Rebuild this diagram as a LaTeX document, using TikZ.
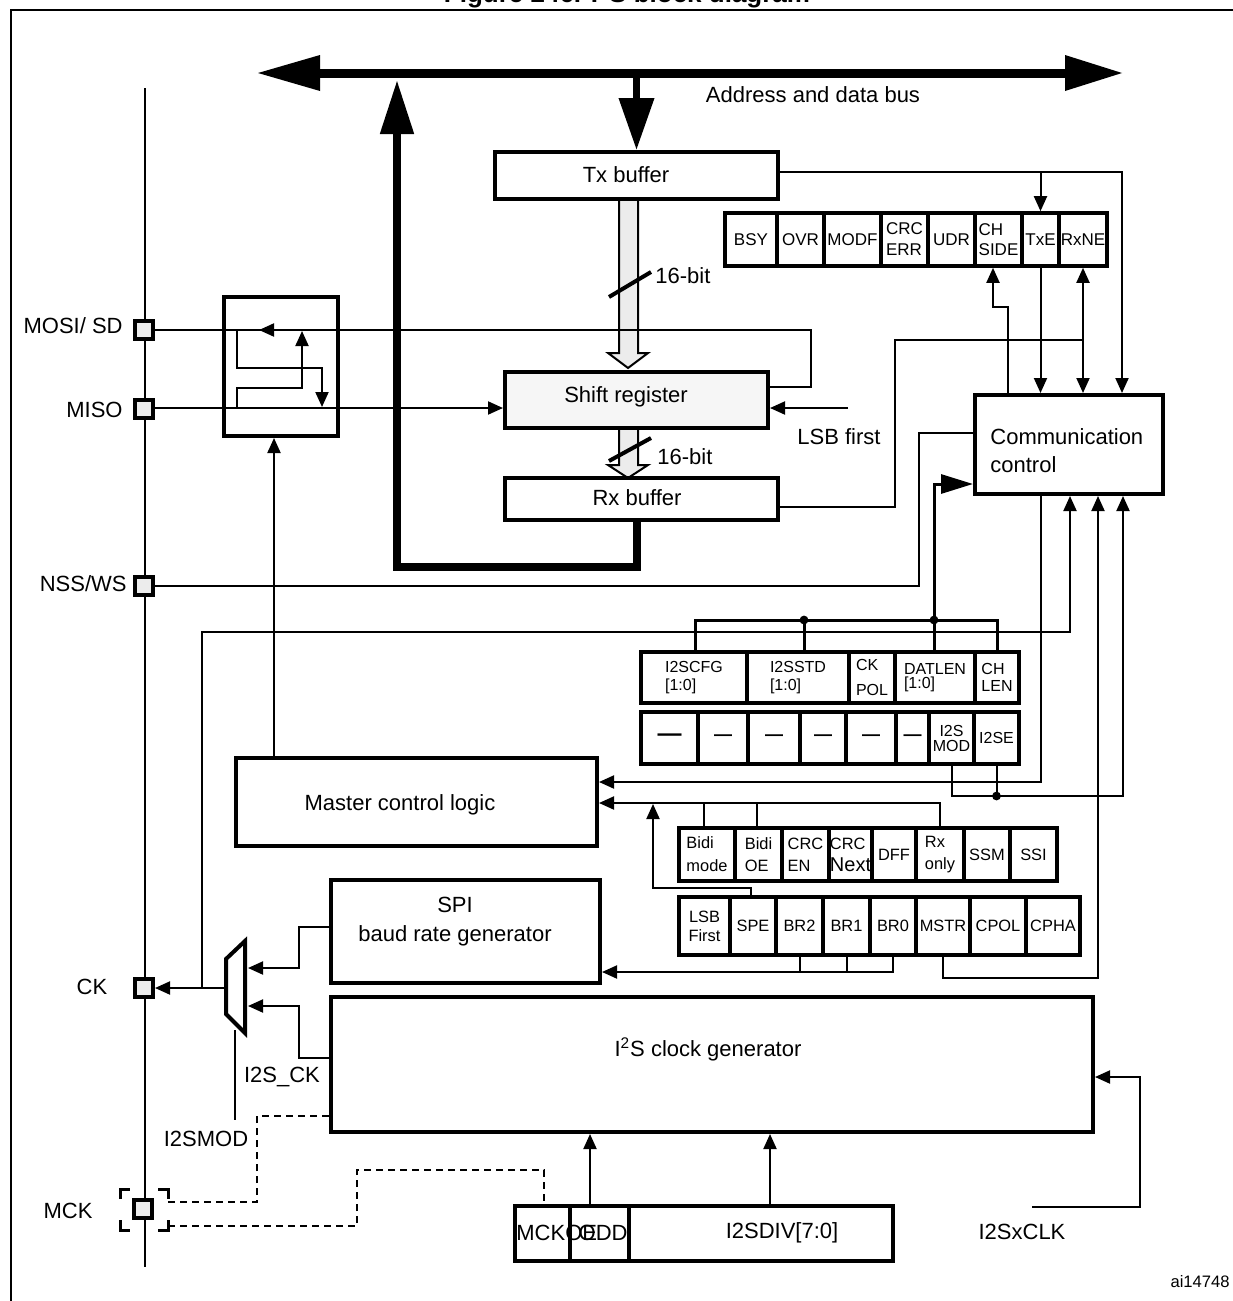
\documentclass[tikz,border=0pt]{standalone}
\usepackage{fontspec}
\setmainfont{Liberation Sans}
\usetikzlibrary{arrows.meta}
\newcommand\rnode[7]{\node[#2, minimum width={(#5-#3)*0.5pt}, minimum height={(#6-#4)*0.5pt}] (#1) at ({(#3+#5)/2},{(#4+#6)/2}) {#7};}
\newcommand\fmain{\fontsize{11}{13}\selectfont}
\begin{document}
\begin{tikzpicture}[x=0.5pt, y=-0.5pt,
 blk/.style={draw, line width=2pt, inner sep=0pt, font=\fmain},
 cell/.style={draw, line width=1.8pt, inner sep=0pt, align=left},
 scell/.style={cell, font=\fontsize{8.5}{10.5}\selectfont},
 icell/.style={cell, font=\fontsize{8}{9}\selectfont},
 pcell/.style={cell, font=\fontsize{8.2}{11.5}\selectfont},
 wire/.style={line width=1pt},
 arr/.style={-{Triangle[length=7.5pt,width=6.5pt]}},
 darr/.style={{Triangle[length=7.5pt,width=6.5pt]}-{Triangle[length=7.5pt,width=6.5pt]}},
 pinbox/.style={draw, line width=2pt, fill=gray!15, minimum size=9pt, inner sep=0pt},
 lbl/.style={font=\fmain, inner sep=0pt},
 cfgbus/.style={line width=1.5pt},
 dsh/.style={line width=1pt, dash pattern=on 3.5pt off 2.5pt},
 brk/.style={line width=1.5pt},
 dot/.style={circle, fill, inner sep=0pt, minimum size=4.4pt}
]
\useasboundingbox (0,0) rectangle (1232,1301);
\fill[white] (0,0) rectangle (1232,1301);
% frame and title
\draw[line width=1pt] (11,1340) -- (11,10) -- (1270,10);
\node[anchor=base, font=\bfseries\fontsize{13}{15}\selectfont, inner sep=0pt] (title) at (627,3) {Figure 246. I\textsuperscript{2}S block diagram};

% address and data bus
\coordinate (busL) at (258,73);
\coordinate (busR) at (1122,73);
\draw[line width=4.5pt] (316,73) -- (1068,73);
\fill (busL) -- (320,55) -- (320,91) -- cycle;
\fill (busR) -- (1065,55) -- (1065,91) -- cycle;
\node[lbl] (buslbl) at (813,95) {Address and data bus};

% hollow 16-bit arrows
\draw[wire, fill=gray!15, line join=miter] (619,199) -- (619,353) -- (608,353) -- (628,368) -- (648,353) -- (638,353) -- (638,199) -- cycle;
\draw[wire, fill=gray!15, line join=miter] (619,428) -- (619,465) -- (608,465) -- (628,478) -- (648,465) -- (638,465) -- (638,428) -- cycle;
\draw[line width=2pt] (609,297) -- (651,272);
\draw[line width=2pt] (609,461) -- (651,438);
\node[lbl, anchor=west] (b16a) at (655,276) {16-bit};
\node[lbl, anchor=west] (b16b) at (657,457) {16-bit};

% main blocks
\rnode{tx}{blk}{495}{152}{778}{199}{}
\node[lbl] (txtext) at (626,175) {Tx buffer};
\rnode{sr}{blk, fill=gray!7}{505}{372}{768}{428}{}
\node[lbl] (srtext) at (626,397) {Shift register};
\rnode{rx}{blk}{505}{478}{778}{520}{}
\node[lbl] (rxtext) at (637,498) {Rx buffer};
\rnode{cc}{blk}{975}{395}{1163}{494}{}
\node[lbl, anchor=west, align=left, font=\fontsize{11}{14}\selectfont] (cctext) at (990,451) {Communication\\control};
\rnode{mb}{blk}{224}{297}{338}{436}{}
\rnode{mcl}{blk}{236}{758}{597}{846}{}
\node[lbl] (mcltext) at (400,805) {Master control logic};
\rnode{spi}{blk}{331}{880}{600}{983}{}
\node[lbl, align=center, font=\fontsize{11}{14.5}\selectfont] (spitext) at (455,922) {SPI\\baud rate generator};
\rnode{i2sg}{blk}{331}{997}{1093}{1132}{}
\node[lbl] (i2sgtext) at (708,1049) {I\textsuperscript{2}S clock generator};

% bus arrows
\draw[line width=3.5pt, -{Triangle[length=26pt,width=17pt]}] (tx.north |- 0,72) -- (tx.north);
\draw[line width=4pt, line join=miter, -{Triangle[length=27pt,width=16pt]}] (rx.south -| 637,0) -- (637,567) -- (397,567) -- (397,80);

% status register
\rnode{bsy}{scell}{725}{213}{777}{266}{BSY}
\rnode{ovr}{scell}{777}{213}{824}{266}{OVR}
\rnode{modf}{scell}{824}{213}{881}{266}{MODF}
\rnode{crcerr}{scell}{881}{213}{928}{266}{CRC\\ERR}
\rnode{udr}{scell}{928}{213}{975}{266}{UDR}
\rnode{chs}{scell, font=\fontsize{8.5}{10}\selectfont}{975}{213}{1022}{266}{CH\\SIDE}
\rnode{txe}{scell}{1022}{213}{1059}{266}{TxE}
\rnode{rxne}{scell}{1059}{213}{1107}{266}{RxNE}

% I2S config register
\rnode{cfg}{icell}{641}{652}{747}{703}{I2SCFG\\{}[1:0]}
\rnode{std}{icell}{747}{652}{849}{703}{I2SSTD\\{}[1:0]}
\rnode{ckpol}{icell, font=\fontsize{8}{12.5}\selectfont}{849}{652}{895}{703}{CK\\POL}
\rnode{datlen}{icell, font=\fontsize{8}{6.8}\selectfont}{895}{652}{975}{703}{DATLEN\\{}[1:0]}
\rnode{chlen}{icell, font=\fontsize{8}{8.5}\selectfont}{975}{652}{1019}{703}{CH\\LEN}
\rnode{da}{icell, font=\bfseries\fontsize{12}{12}\selectfont}{641}{712}{698}{764}{—}
\rnode{db}{icell, font=\bfseries\fontsize{9}{9}\selectfont}{698}{712}{748}{764}{—}
\rnode{dc}{icell, font=\bfseries\fontsize{9}{9}\selectfont}{748}{712}{800}{764}{—}
\rnode{dd}{icell, font=\bfseries\fontsize{9}{9}\selectfont}{800}{712}{846}{764}{—}
\rnode{de}{icell, font=\bfseries\fontsize{9}{9}\selectfont}{846}{712}{896}{764}{—}
\rnode{df}{icell, font=\bfseries\fontsize{9}{9}\selectfont}{896}{712}{929}{764}{—}
\rnode{i2smod}{icell, align=center, font=\fontsize{8}{7.5}\selectfont}{929}{712}{974}{764}{I2S\\MOD}
\rnode{i2se}{icell}{974}{712}{1019}{764}{I2SE}

% SPI CR1 upper row
\rnode{bidim}{pcell}{679}{828}{735}{881}{Bidi\\mode}
\rnode{bidioe}{pcell, font=\fontsize{8.2}{11}\selectfont}{735}{828}{782}{881}{Bidi\\OE}
\rnode{crcen}{pcell, font=\fontsize{8.2}{11}\selectfont}{782}{828}{829}{881}{CRC\\EN}
\rnode{crcnext}{pcell, font=\fontsize{8.2}{11}\selectfont}{829}{828}{872}{881}{CRC\\{\fontsize{10}{11}\selectfont Next}}
\rnode{dff}{pcell}{872}{828}{916}{881}{DFF}
\rnode{rxonly}{pcell, font=\fontsize{8.2}{11}\selectfont}{916}{828}{964}{881}{Rx\\only}
\rnode{ssm}{pcell}{964}{828}{1010}{881}{SSM}
\rnode{ssi}{pcell}{1010}{828}{1057}{881}{SSI}
% SPI CR1 lower row
\rnode{lsbf}{pcell, align=center, font=\fontsize{8.2}{9.5}\selectfont}{679}{897}{730}{955}{LSB\\First}
\rnode{spe}{pcell}{730}{897}{776}{955}{SPE}
\rnode{br2}{pcell}{776}{897}{823}{955}{BR2}
\rnode{br1}{pcell}{823}{897}{870}{955}{BR1}
\rnode{br0}{pcell}{870}{897}{916}{955}{BR0}
\rnode{mstr}{pcell}{916}{897}{970}{955}{MSTR}
\rnode{cpol}{pcell}{970}{897}{1026}{955}{CPOL}
\rnode{cpha}{pcell}{1026}{897}{1080}{955}{CPHA}

% I2S prescaler register
\rnode{mckoe}{cell}{515}{1206}{570}{1261}{}
\rnode{odd}{cell}{570}{1206}{629}{1261}{}
\rnode{i2sdiv}{cell, font=\fmain}{629}{1206}{893}{1261}{}
\node[lbl, anchor=west] (tmckoe) at (516,1233) {MCKOE};
\node[lbl, anchor=east] (todd) at (628,1233) {ODD};
\node[lbl] (ti2sdiv) at (782,1233) {I2SDIV[7:0]};

% pins
\draw[wire] (145,88) -- (145,1267);
\node[pinbox] (mosi) at (144,330) {};
\node[pinbox] (miso) at (144,409) {};
\node[pinbox] (nss) at (144,586) {};
\node[pinbox] (ck) at (144,988) {};
\node[pinbox] (mck) at (143,1209) {};
\node[lbl, anchor=east] (lmosi) at (123,326) {MOSI/ SD};
\node[lbl, anchor=east] (lmiso) at (123,410) {MISO};
\node[lbl, anchor=east] (lnss) at (127,584) {NSS/WS};
\node[lbl] (lck) at (92,987) {CK};
\node[lbl] (lmck) at (68,1211) {MCK};
\draw[brk] (120,1199) -- (120,1189) -- (130,1189);
\draw[brk] (158,1189) -- (168,1189) -- (168,1199);
\draw[brk] (120,1220) -- (120,1230) -- (130,1230);
\draw[brk] (158,1230) -- (168,1230) -- (168,1220);

% Tx buffer to status and control
\draw[wire, arr] (tx.east |- 0,172) -- (1122,172) -- (cc.north -| 1122,0);
\draw[wire, arr] (txe.north |- 0,172) -- (txe.north);
\draw[wire, arr] (txe.south) -- (txe.south |- cc.north);
\draw[wire, darr] (rxne.south) -- (rxne.south |- cc.north);
\draw[wire, arr] (cc.north -| 1008,0) -- (1008,307) -- (993,307) -- (chs.south -| 993,0);
\draw[wire] (rx.east |- 0,507) -- (895,507) -- (895,340) -- (rxne.south |- 0,340);

% shift register links
\draw[wire] (sr.east |- 0,387) -- (811,387) -- (811,330) -- (mosi.east |- 0,330);
\draw[wire, arr] (300,330) -- (259,330);
\coordinate (lsbin) at (848,408);
\draw[wire, arr] (lsbin) -- (sr.east |- lsbin);
\node[lbl] (lsblbl) at (839,437) {LSB first};
\draw[wire, arr] (miso.east |- 0,408) -- (sr.west |- 0,408);

% inside the mux box
\draw[wire, arr] (237,330) -- (237,368) -- (322,368) -- (322,407);
\draw[wire, arr] (237,408) -- (237,388) -- (302,388) -- (302,331);
\draw[wire, arr] (mcl.north -| 274,0) -- (mb.south -| 274,0);

% NSS
\draw[wire] (cc.west |- 0,433) -- (919,433) -- (919,586) -- (nss.east);

% config bus
\draw[cfgbus] (cfg.north -| 695,0) -- (695,620) -- (997,620) -- (chlen.north -| 997,0);
\draw[cfgbus] (804,620) -- (std.north -| 804,0);
\draw[cfgbus, -{Triangle[length=16pt,width=9.5pt]}] (datlen.north -| 934,0) -- (934,484) -- (cc.west |- 0,484);
\node[dot] (dot1) at (804,620) {};
\node[dot] (dot2) at (934,620) {};

% CK feedback
\draw[wire, arr] (202,988) -- (202,632) -- (1070,632) -- (cc.south -| 1070,0);
% comm control to master
\draw[wire, arr] (cc.south -| 1041,0) -- (1041,782) -- (mcl.east |- 0,782);
% SPI CR1 to master
\draw[wire, arr] (rxonly.north) -- (rxonly.north |- 0,803) -- (mcl.east |- 0,803);
\draw[wire] (bidim.north -| 704,0) -- (704,803);
\draw[wire] (bidioe.north -| 757,0) -- (757,803);
\draw[wire, arr] (spe.north -| 751,0) -- (751,888) -- (653,888) -- (653,804);
% baud rate bits
\draw[wire] (br2.south) -- (br2.south |- 0,972);
\draw[wire] (br1.south) -- (br1.south |- 0,972);
\draw[wire, arr] (br0.south) -- (br0.south |- 0,972) -- (spi.east |- 0,972);
% MSTR
\draw[wire, arr] (mstr.south) -- (mstr.south |- 0,978) -- (1098,978) -- (cc.south -| 1098,0);
% I2SMOD / I2SE
\draw[wire, arr] (i2smod.south -| 952,0) -- (952,796) -- (1123,796) -- (cc.south -| 1123,0);
\draw[wire] (i2se.south) -- (i2se.south |- 0,796);
\node[dot] (dot3) at (i2se.south |- 0,796) {};

% I2SxCLK
\coordinate (clkin) at (1032,1207);
\draw[wire, arr] (clkin) -- (1140,1207) -- (1140,1077) -- (i2sg.east |- 0,1077);
\node[lbl] (lclk) at (1022,1232) {I2SxCLK};
% prescaler to clock generator
\draw[wire, arr] (odd.north -| 590,0) -- (i2sg.south -| 590,0);
\draw[wire, arr] (i2sdiv.north -| 770,0) -- (i2sg.south -| 770,0);
% MCK dashed
\draw[dsh] (168,1202) -- (257,1202) -- (257,1116) -- (i2sg.west |- 0,1116);
\draw[dsh] (168,1226) -- (357,1226) -- (357,1170) -- (544,1170) -- (mckoe.north -| 544,0);

% clock mux
\draw[line width=2pt, line join=miter] (226,959) -- (245,941) -- (245,1033) -- (226,1014) -- cycle;
\coordinate (muxout) at (226,988);
\draw[wire, arr] (spi.west |- 0,927) -- (299,927) -- (299,968) -- (248,968);
\draw[wire, arr] (i2sg.west |- 0,1058) -- (299,1058) -- (299,1006) -- (248,1006);
\draw[wire, arr] (muxout) -- (ck.east);
\draw[wire] (235,1030) -- (235,1120);
\node[lbl] (li2sck) at (282,1077) {I2S\_CK};
\node[lbl] (li2smod) at (206,1139) {I2SMOD};

\node[lbl, anchor=east, font=\fontsize{8.3}{10}\selectfont] (aiid) at (1230,1282) {ai14748};
\end{tikzpicture}
\end{document}
